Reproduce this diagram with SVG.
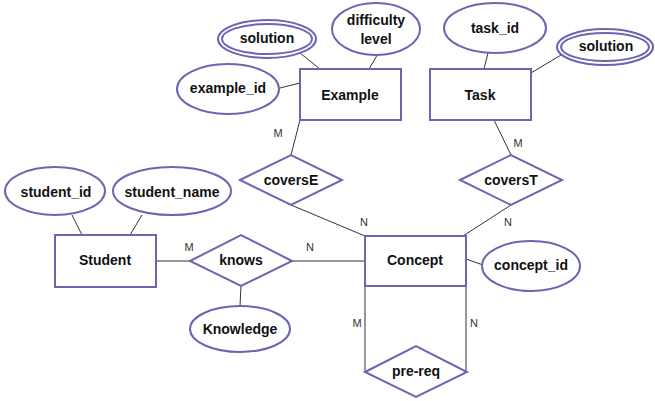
<svg xmlns="http://www.w3.org/2000/svg" width="655" height="401" viewBox="0 0 655 401">
<style>
.s{fill:#fff;stroke:#6a66b2;stroke-width:2}
.t{font-family:"Liberation Sans",Arial,sans-serif;font-weight:bold;font-size:14px;fill:#111;text-anchor:middle;dominant-baseline:central}
.c{font-family:"Liberation Sans",Arial,sans-serif;font-size:11px;fill:#333;text-anchor:middle;dominant-baseline:central}
.l{stroke:#333;stroke-width:1;fill:none}
</style>
<rect width="655" height="401" fill="#fff"/>
<g id="connectors">
<line class="l" x1="300" y1="53" x2="320" y2="69"/>
<line class="l" x1="379" y1="52" x2="369" y2="69"/>
<line class="l" x1="280" y1="88" x2="300" y2="83"/>
<line class="l" x1="488" y1="53" x2="484" y2="69"/>
<line class="l" x1="561" y1="55" x2="531" y2="73"/>
<line class="l" x1="72" y1="215" x2="82" y2="235"/>
<line class="l" x1="142" y1="215" x2="130" y2="235"/>
<line class="l" x1="156" y1="261" x2="190" y2="261"/>
<line class="l" x1="292" y1="261" x2="365" y2="261"/>
<line class="l" x1="241" y1="286" x2="240" y2="306"/>
<line class="l" x1="466" y1="259" x2="483" y2="265"/>
<line class="l" x1="300" y1="120" x2="291" y2="155"/>
<line class="l" x1="291" y1="205" x2="365" y2="236"/>
<line class="l" x1="494" y1="120" x2="511" y2="155"/>
<line class="l" x1="511" y1="205" x2="463" y2="236"/>
<line class="l" x1="365" y1="286" x2="365" y2="372"/>
<line class="l" x1="466" y1="286" x2="466" y2="372"/>
<text class="c" x="278" y="133">M</text>
<text class="c" x="364" y="222">N</text>
<text class="c" x="518" y="143">M</text>
<text class="c" x="508" y="222">N</text>
<text class="c" x="189" y="247">M</text>
<text class="c" x="310" y="247">N</text>
<text class="c" x="357" y="323">M</text>
<text class="c" x="474" y="323">N</text>
</g>
<g id="example"><rect class="s" x="300" y="69" width="101" height="51"/><text class="t" x="350" y="95">Example</text></g>
<g id="example_solution"><ellipse class="s" cx="267" cy="39" rx="49" ry="19"/><ellipse class="s" cx="267" cy="39" rx="45" ry="15"/><text class="t" x="267" y="38">solution</text></g>
<g id="difficulty_level"><ellipse class="s" cx="376" cy="29" rx="44" ry="26"/><text class="t" x="376" y="20">difficulty</text><text class="t" x="376" y="39">level</text></g>
<g id="example_id"><ellipse class="s" cx="228" cy="89" rx="51" ry="25"/><text class="t" x="228" y="88">example_id</text></g>
<g id="task"><rect class="s" x="430" y="69" width="101" height="51"/><text class="t" x="480" y="95">Task</text></g>
<g id="task_id"><ellipse class="s" cx="495" cy="28" rx="51" ry="25"/><text class="t" x="495" y="28">task_id</text></g>
<g id="task_solution"><ellipse class="s" cx="605" cy="47" rx="48" ry="18"/><ellipse class="s" cx="605" cy="47" rx="44" ry="14"/><text class="t" x="606" y="46">solution</text></g>
<g id="coversE"><polygon class="s" points="240,180 291,155 342,180 291,205"/><text class="t" x="291" y="180">coversE</text></g>
<g id="coversT"><polygon class="s" points="460,180 511,155 562,180 511,205"/><text class="t" x="511" y="180">coversT</text></g>
<g id="student"><rect class="s" x="55" y="235" width="101" height="52"/><text class="t" x="105" y="260">Student</text></g>
<g id="student_id"><ellipse class="s" cx="55" cy="191" rx="50" ry="24"/><text class="t" x="56" y="192">student_id</text></g>
<g id="student_name"><ellipse class="s" cx="172" cy="191" rx="59" ry="24"/><text class="t" x="172" y="192">student_name</text></g>
<g id="knows"><polygon class="s" points="190,261 241,235 292,261 241,286"/><text class="t" x="241" y="260">knows</text></g>
<g id="knowledge"><ellipse class="s" cx="240" cy="329" rx="50" ry="23"/><text class="t" x="240" y="329">Knowledge</text></g>
<g id="concept"><rect class="s" x="365" y="236" width="101" height="50"/><text class="t" x="415" y="260">Concept</text></g>
<g id="concept_id"><ellipse class="s" cx="531" cy="266" rx="49" ry="25"/><text class="t" x="531" y="265">concept_id</text></g>
<g id="pre-req"><polygon class="s" points="365,372 416,346 467,372 416,397"/><text class="t" x="416" y="371">pre-req</text></g>
</svg>
